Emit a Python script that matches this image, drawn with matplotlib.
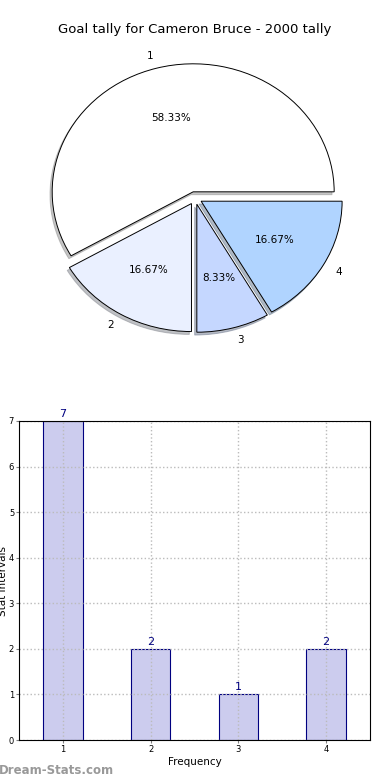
import matplotlib
matplotlib.use("Agg")
import matplotlib.pyplot as plt
import numpy as np

# data
labels = ['1', '2', '3', '4']
tally = [7, 2, 1, 2]
pie_colors = ['#ffffff', '#eaf0ff', '#c5d7ff', '#b0d4ff']

fig = plt.figure(figsize=(3.9, 7.8), dpi=100)

# pie chart
ax1 = fig.add_axes([0.030, 0.5328, 0.94, 0.4267])
wedges, texts, autotexts = ax1.pie(
    tally, labels=labels, colors=pie_colors, explode=[0.05] * 4,
    autopct='%.2f%%', shadow=dict(ox=-0.011, oy=-0.016, shade=0.45),
    startangle=0, counterclock=True,
    wedgeprops=dict(edgecolor='black', linewidth=0.7),
    textprops=dict(fontsize=7.5))
ax1.set_aspect('auto')
ax1.set_xlim(-1.3, 1.3)
ax1.set_ylim(-1.3, 1.3)
fig.text(0.5, 1 - 30 / 780, 'Goal tally for Cameron Bruce - 2000 tally',
         ha='center', va='center', fontsize=9.5)

# bar chart
ax2 = fig.add_axes([19 / 390, 1 - 740 / 780, 351 / 390, 319 / 780])
x = np.arange(1, len(tally) + 1)
bars = ax2.bar(x, tally, width=0.45, color='#ccccee', edgecolor='navy', linewidth=0.8, zorder=2)
for xi, v in zip(x, tally):
    ax2.text(xi, v + 0.05, str(v), ha='center', va='bottom', color='navy', fontsize=8)
ax2.set_xlim(0.5, 4.5)
ax2.set_ylim(0, 7)
ax2.set_xticks(x)
ax2.set_yticks(range(0, 8))
ax2.tick_params(labelsize=6, length=2, pad=1.5, color='gray')
ax2.grid(True, linestyle=':', color='#bbbbbb', linewidth=1.0, zorder=3)
ax2.set_axisbelow(False)
for sp in ax2.spines.values():
    sp.set_zorder(4)
ax2.set_xlabel('Frequency', fontsize=7.5, labelpad=2)
ax2.set_ylabel('Stat intervals', fontsize=7.5)
ax2.yaxis.set_label_coords(-0.03, 0.5)

fig.text(-0.003, 0.012, 'Dream-Stats.com', color='#999999', fontsize=8.5,
         fontweight='bold', ha='left', va='center')

fig.savefig('out.png', dpi=100)
